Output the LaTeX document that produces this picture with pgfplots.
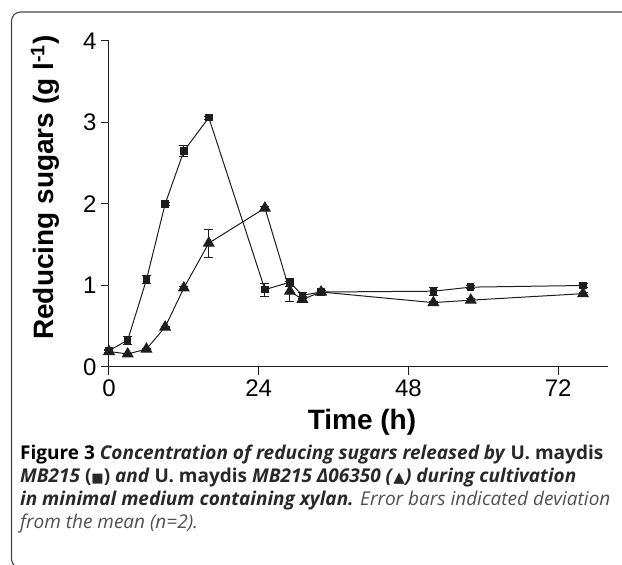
\documentclass[border=0pt]{standalone}
\usepackage{pgfplots}
\pgfplotsset{compat=1.18}
\usepackage{pgfplotstable}
\usepackage{fontspec}
\setmainfont{Liberation Sans}
\newfontfamily\capfont{Open Sans}
\newfontfamily\symfont{DejaVu Sans}

\pgfplotstableread{
x y e
0 0.20 0.02
3 0.33 0.05
6 1.07 0.05
9 2.00 0.02
12 2.65 0.07
16 3.06 0.02
25 0.95 0.08
29 1.04 0.05
31 0.88 0.04
34 0.92 0.02
52 0.93 0.05
58 0.98 0.02
76 1.00 0.02
}\wildtype

\pgfplotstableread{
x y e
0 0.19 0.01
3 0.16 0.01
6 0.22 0.01
9 0.49 0.01
12 0.97 0.02
16 1.52 0.17
25 1.95 0.02
29 0.93 0.12
31 0.83 0.03
34 0.92 0.02
52 0.79 0.02
58 0.82 0.02
76 0.90 0.02
}\mutant

\definecolor{frame}{RGB}{70,70,70}
\definecolor{ink}{RGB}{30,30,30}
\definecolor{captxt}{RGB}{40,40,40}
\definecolor{lighttxt}{RGB}{80,80,80}

\begin{document}
\begin{tikzpicture}[x=1pt,y=1pt]
\path[use as bounding box] (0,0) rectangle (622,565);
\begin{scope}
\clip (0,0) rectangle (622,565);
\draw[frame, line width=1.1pt, rounded corners=9pt] (11.5,-3) rectangle (660,553);
\end{scope}

\begin{axis}[
    at={(109pt,198pt)}, anchor=south west,
    scale only axis, width=499pt, height=326pt,
    xmin=0, xmax=80, ymin=0, ymax=4,
    axis x line=bottom, axis y line=left,
    axis line style={-, line width=1pt, ink},
    xtick={0,24,48,72}, ytick={0,1,2,3,4},
    tick align=outside, major tick length=8pt,
    tick style={line width=1pt, ink},
    /pgf/number format/assume math mode=true,
    ticklabel style={font=\fontsize{24}{28}\selectfont},
    xticklabel style={yshift=-1pt},
    yticklabel style={xshift=-1pt},
    xlabel={\textbf{Time (h)}},
    ylabel={\textbf{Reducing sugars (g l\textsuperscript{-1})}},
    label style={font=\fontsize{28}{32}\selectfont},
    xlabel style={at={(axis description cs:0.507,-0.168)}, anchor=center},
    ylabel style={at={(axis description cs:-0.128,0.55)}, anchor=center},
    clip=false,
]
\addplot[ink, line width=1pt, mark=square*, mark size=3.2pt,
    mark options={fill=ink},
    error bars/.cd, y dir=both, y explicit,
    error mark options={rotate=90, mark size=4.5pt, line width=0.9pt},
    error bar style={line width=0.9pt}]
    table[x=x, y=y, y error=e] {\wildtype};
\addplot[ink, line width=1pt, mark=triangle*, mark size=6pt,
    mark options={fill=ink},
    error bars/.cd, y dir=both, y explicit,
    error mark options={rotate=90, mark size=4.5pt, line width=0.9pt},
    error bar style={line width=0.9pt}]
    table[x=x, y=y, y error=e] {\mutant};
\end{axis}

\begin{scope}[every node/.style={anchor=base west, inner sep=0pt}]
\node[captxt] at (20,565-460) {\capfont\fontsize{19}{22}\selectfont
  \textcolor{black}{\textbf{Figure 3}} \textbf{\textit{Concentration of reducing sugars released by}} \textbf{U.~maydis}};
\node[captxt] at (20,565-483) {\capfont\fontsize{19}{22}\selectfont
  \textbf{\textit{MB215}} \textbf{({\symfont\fontsize{13}{14}\selectfont■})} \textbf{\textit{and}} \textbf{U.~maydis} \textbf{\textit{MB215 Δ06350 (}}{\symfont\fontsize{15}{15}\selectfont▲}\textbf{\textit{) during cultivation}}};
\node[captxt] at (20,565-506) {\capfont\fontsize{19}{22}\selectfont
  \textbf{\textit{in minimal medium containing xylan.}} \textcolor{lighttxt}{\textit{Error bars indicated deviation}}};
\node[lighttxt] at (20,565-529) {\capfont\fontsize{19}{22}\selectfont
  \textit{from the mean (n=2).}};
\end{scope}
\end{tikzpicture}
\end{document}
